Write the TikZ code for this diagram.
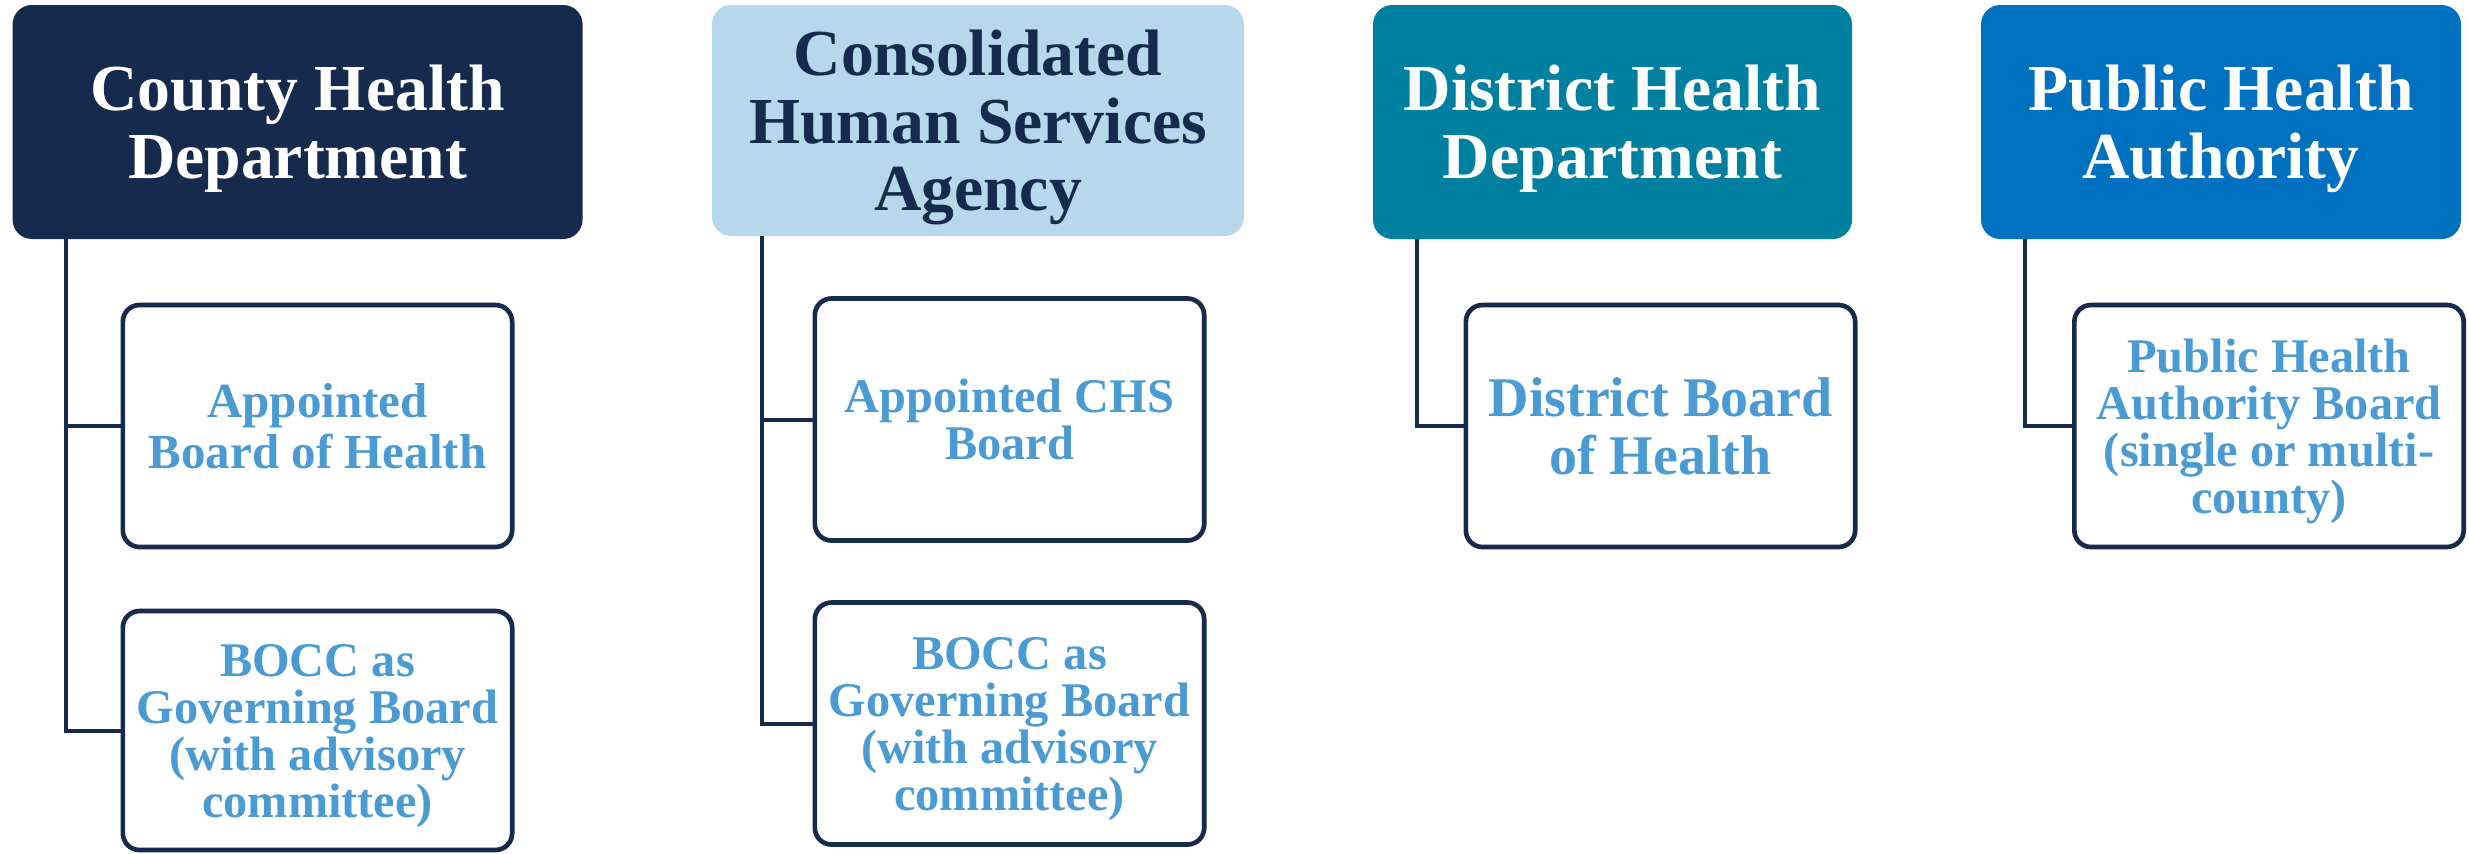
\documentclass[tikz,border=0pt]{standalone}
\usepackage{fontspec}
\setmainfont{Liberation Serif}
\definecolor{navy}{HTML}{152A4C}
\definecolor{lightblue}{HTML}{B7D7EC}
\definecolor{teal}{HTML}{0080A0}
\definecolor{midblue}{HTML}{0070C0}
\definecolor{childtext}{HTML}{4A9BD4}
\tikzset{
  head/.style={rectangle, rounded corners=5.8pt, inner sep=0pt, align=center,
    text depth=0pt,
    font=\bfseries\fontsize{19.7}{20.3}\selectfont, text=white},
  child/.style={rectangle, rounded corners=5pt, draw=navy, line width=1.4pt, fill=white,
    inner sep=0pt, align=center, minimum width=116.8pt, minimum height=72.6pt,
    text depth=0pt,
    font=\bfseries\fontsize{14.5}{14.1}\selectfont, text=childtext},
  conn/.style={draw=navy, line width=1.2pt}
}
\begin{document}
\begin{tikzpicture}[x=0.3pt,y=-0.3pt]
\useasboundingbox (0,0) rectangle (2469,853);
% headers
\node[head, fill=navy, minimum width=171pt, minimum height=70.2pt] (h1) at (297.6,122) {County Health\\Department};
\node[head, fill=lightblue, text=navy, minimum width=159.6pt, minimum height=69.3pt] (h2) at (978,120.5) {Consolidated\\Human Services\\Agency};
\node[head, fill=teal, minimum width=143.7pt, minimum height=70.2pt] (h3) at (1612.5,122) {District Health\\Department};
\node[head, fill=midblue, minimum width=144pt, minimum height=70.2pt] (h4) at (2221,122) {Public Health\\Authority};
% children
\node[child, font=\bfseries\fontsize{14.7}{15.2}\selectfont] (c1a) at (317.5,426) {Appointed\\Board of Health};
\node[child, minimum height=71.7pt] (c1b) at (317.5,730.5) {BOCC as\\Governing Board\\(with advisory\\committee)};
\node[child] (c2a) at (1009.5,419.5) {Appointed CHS\\Board};
\node[child] (c2b) at (1009.5,723.5) {BOCC as\\Governing Board\\(with advisory\\committee)};
\node[child, font=\bfseries\fontsize{16.8}{17.2}\selectfont] (c3a) at (1660.5,426) {District Board\\of Health};
\node[child] (c4a) at (2269,426) {Public Health\\Authority Board\\(single or multi-\\county)};
% connectors
\coordinate (v1) at (66,239);
\coordinate (v2) at (762,236);
\coordinate (v3) at (1417,239);
\coordinate (v4) at (2025,239);
\draw[conn] (v1) |- (c1a.west);
\draw[conn] (v1) |- (c1b.west);
\draw[conn] (v2) |- (c2a.west);
\draw[conn] (v2) |- (c2b.west);
\draw[conn] (v3) |- (c3a.west);
\draw[conn] (v4) |- (c4a.west);
\end{tikzpicture}
\end{document}
